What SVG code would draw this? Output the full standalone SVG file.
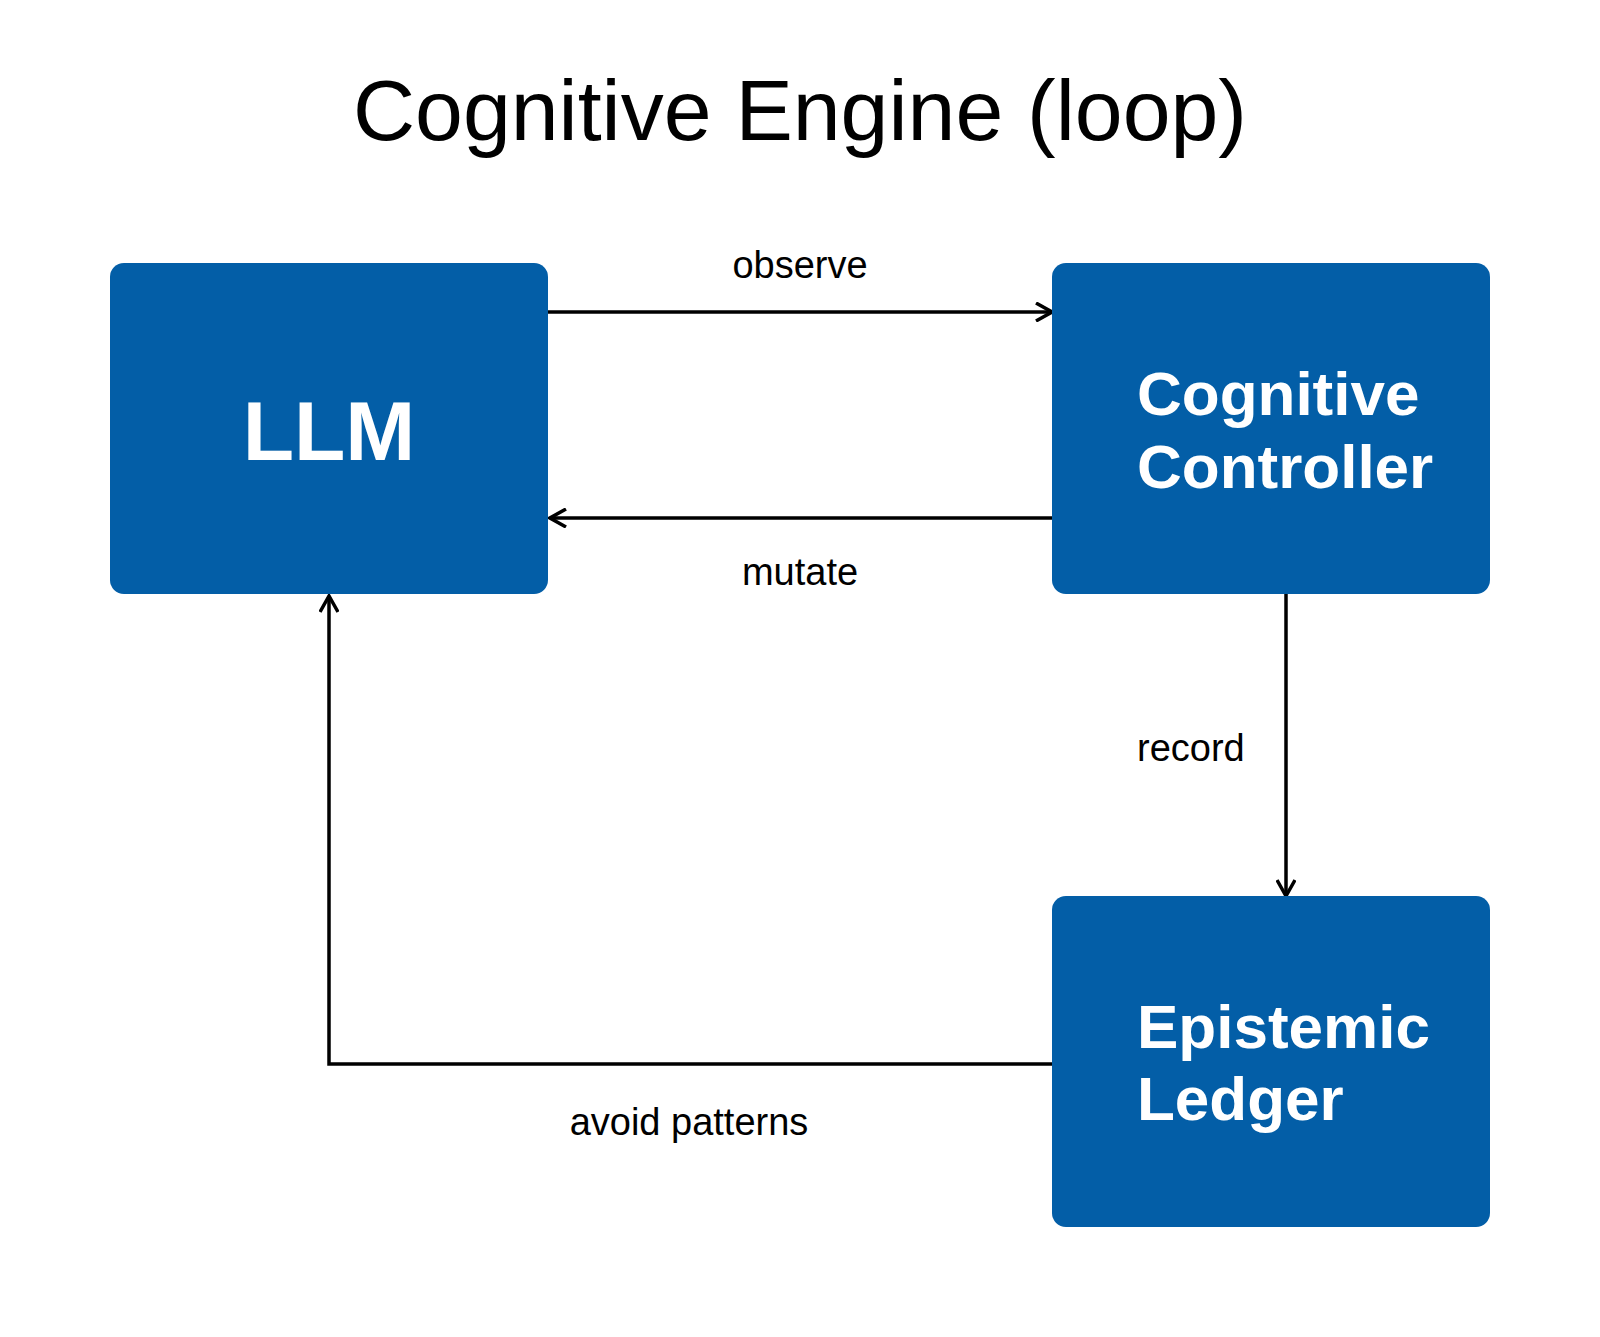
<svg xmlns="http://www.w3.org/2000/svg" width="1600" height="1337" viewBox="0 0 1600 1337">
<style>
.box{fill:#035EA7}
.nt{fill:#fff;font-family:"Liberation Sans",Arial,sans-serif;font-weight:bold}
.lbl{fill:#000;font-family:"Liberation Sans",Arial,sans-serif;font-size:38px}
.c{fill:none;stroke:#000;stroke-width:3.5}
</style>
<defs>
<marker id="ah" viewBox="0 0 20 20" refX="18" refY="10" markerWidth="20" markerHeight="20" markerUnits="userSpaceOnUse" orient="auto">
<path d="M2,1 L18,10 L2,19" fill="none" stroke="#000" stroke-width="3.5"/>
</marker>
</defs>
<rect width="1600" height="1337" fill="#fff"/>
<text x="800" y="140" text-anchor="middle" font-family="'Liberation Sans',Arial,sans-serif" font-size="86" fill="#000">Cognitive Engine (loop)</text>
<g id="connectors">
<line class="c" x1="548" y1="312" x2="1052" y2="312" marker-end="url(#ah)"/>
<line class="c" x1="1052" y1="518" x2="550" y2="518" marker-end="url(#ah)"/>
<line class="c" x1="1286" y1="594" x2="1286" y2="896" marker-end="url(#ah)"/>
<polyline class="c" points="1052,1064 329,1064 329,596" marker-end="url(#ah)"/>
<text class="lbl" x="800" y="278" text-anchor="middle">observe</text>
<text class="lbl" x="800" y="585" text-anchor="middle">mutate</text>
<text class="lbl" x="1137" y="761">record</text>
<text class="lbl" x="689" y="1135" text-anchor="middle">avoid patterns</text>
</g>
<g id="llm">
<rect class="box" x="110" y="263" width="438" height="331" rx="14"/>
<text class="nt" x="329" y="460" text-anchor="middle" font-size="84">LLM</text>
</g>
<g id="controller">
<rect class="box" x="1052" y="263" width="438" height="331" rx="14"/>
<text class="nt" x="1137" y="415" font-size="62">Cognitive</text>
<text class="nt" x="1137" y="488" font-size="62">Controller</text>
</g>
<g id="ledger">
<rect class="box" x="1052" y="896" width="438" height="331" rx="14"/>
<text class="nt" x="1137" y="1048" font-size="62">Epistemic</text>
<text class="nt" x="1137" y="1120" font-size="62">Ledger</text>
</g>
</svg>
